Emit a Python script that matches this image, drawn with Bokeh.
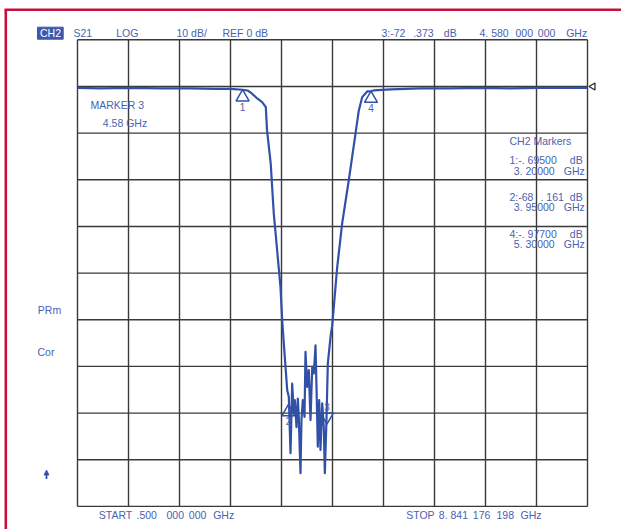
import math
from bokeh.plotting import figure
from bokeh.models import Label
from bokeh.embed import file_html
from bokeh.resources import INLINE

freq_start_ghz = 0.5
freq_stop_ghz = 8.841176198
top_db = 10.0          # one division above REF 0 dB
db_per_div = 10.0
n_xdiv = 10
n_ydiv = 10
ref_db = 0.0

freq_ghz = [0.50, 0.88, 1.37, 1.86, 2.35, 2.76, 3.00, 3.20,
            3.28, 3.35, 3.44, 3.52, 3.58, 3.60, 3.66, 3.71, 3.77, 3.82,
            3.848, 3.874, 3.93,
            3.956, 3.984, 4.011, 4.038, 4.054, 4.082, 4.103, 4.119, 4.147,
            4.163, 4.185, 4.213, 4.229, 4.257, 4.283, 4.311, 4.339, 4.365, 4.393,
            4.409, 4.430, 4.453, 4.474, 4.502, 4.528, 4.545, 4.572, 4.594, 4.638,
            4.666, 4.747, 4.829, 4.937, 5.047, 5.101, 5.156, 5.238, 5.30, 5.346,
            5.62, 6.11, 6.60, 7.09, 7.58, 8.07, 8.40, 8.841]
s21_db = [-0.3, -0.43, -0.3, -0.43, -0.43, -0.5, -0.5, -0.7,
          -0.86, -1.5, -2.57, -3.36, -4.43, -9.42, -16.5, -27.2, -35.8, -43.0,
          -50.1, -55.0, -65.1,
          -66.5, -78.6, -63.7, -70.1, -67.2, -73.0, -66.9, -70.8, -82.9,
          -71.5, -67.2, -70.8, -56.9, -64.4, -60.8, -71.5, -60.1, -61.5, -55.5,
          -64.4, -77.2, -67.2, -77.9, -67.9, -73.0, -82.9, -71.5, -59.4, -53.7,
          -51.2, -38.8, -29.3, -20.1, -10.1, -5.14, -2.29, -1.07, -0.98, -0.86,
          -0.64, -0.43, -0.43, -0.3, -0.43, -0.3, -0.3, -0.3]

marker_ids = ["1", "2", "3", "4"]
marker_freq_ghz = [3.20, 3.95, 4.58, 5.30]
marker_db = [-0.695, -68.161, -72.373, -0.977]
active_marker = "3"

# ---------------- layout ----------------
W, H = 621, 529
X0, Y0 = 0, 0                    # page position of the canvas
GL, GR, GT, GB = 77.0, 587.0, 39.3, 505.9   # grid box in page pixels

bottom_db = top_db - n_ydiv * db_per_div
sx = (freq_stop_ghz - freq_start_ghz) / (GR - GL)
sy = (top_db - bottom_db) / (GB - GT)

x_start = freq_start_ghz - (GL - X0) * sx
x_end = freq_start_ghz + (X0 + W - GL) * sx
y_end = top_db + (GT - Y0) * sy
y_start = top_db - (Y0 + H - GT) * sy


def dx(X):
    return freq_start_ghz + (X - GL) * sx


def dy(Y):
    return top_db - (Y - GT) * sy


BLUE_TXT = "#4a62b0"
TRACE = "#3151a8"
RED = "#c8103c"
GRID = "#3a3a3a"
FONT = "Liberation Sans"

p = figure(width=W, height=H, x_range=(x_start, x_end), y_range=(y_start, y_end),
           output_backend="svg", toolbar_location=None, min_border=0,
           x_axis_location=None, y_axis_location=None)
p.grid.visible = False
p.outline_line_color = None
p.background_fill_color = "white"
p.border_fill_color = "white"

# red frame (top and left)
p.line([dx(4), dx(X0 + W)], [dy(9.2), dy(9.2)], line_color=RED, line_width=2.6)
p.line([dx(5.3), dx(5.3)], [dy(9.2), dy(Y0 + H)], line_color=RED, line_width=2.6)

# graticule
xdiv = [freq_start_ghz + i * (freq_stop_ghz - freq_start_ghz) / n_xdiv for i in range(n_xdiv + 1)]
ydiv = [top_db - i * db_per_div for i in range(n_ydiv + 1)]
p.segment(x0=xdiv, y0=[bottom_db] * len(xdiv), x1=xdiv, y1=[top_db] * len(xdiv),
          line_color=GRID, line_width=1.4)
p.segment(x0=[freq_start_ghz] * len(ydiv), y0=ydiv, x1=[freq_stop_ghz] * len(ydiv), y1=ydiv,
          line_color=GRID, line_width=1.4)

# trace
p.line(freq_ghz, s21_db, line_color=TRACE, line_width=2.2, line_join="round")

# markers
tri_px = 13
apex_off = tri_px / 2 * math.sqrt(3) * 2 / 3


def lab(X, Y, text, size="10.5px", color=BLUE_TXT, align="left", data=False):
    x = X if data else dx(X)
    y = Y if data else dy(Y)
    p.add_layout(Label(x=x, y=y, text=text, text_font=FONT, text_font_size=size,
                       text_color=color, text_align=align, text_baseline="middle"))


for mid, f, d in zip(marker_ids, marker_freq_ghz, marker_db):
    if mid == active_marker:
        p.scatter([f], [d + apex_off * sy], marker="inverted_triangle", size=tri_px,
                  fill_color=None, line_color=TRACE, line_width=1.5)
        lab(f, d + 17 * sy, mid, size="10px", align="center", data=True)
    else:
        p.scatter([f], [d - apex_off * sy], marker="triangle", size=tri_px,
                  fill_color=None, line_color=TRACE, line_width=1.5)
        lab(f, d - 17 * sy, mid, size="10px", align="center", data=True)

# reference level indicator at right edge
p.patch([freq_stop_ghz + 1.5 * sx, freq_stop_ghz + 7.5 * sx, freq_stop_ghz + 7.5 * sx],
        [ref_db, ref_db + 3.5 * sy, ref_db - 3.5 * sy],
        fill_color="white", line_color="#222222", line_width=1.2)

# CH2 box
p.quad(left=[dx(37)], right=[dx(62.7)], top=[dy(26.7)], bottom=[dy(38.7)],
       fill_color="#3d5aaa", line_color="#3d5aaa")
lab(39.5, 32.6, "CH2", color="white")

# header
lab(73, 32.3, "S21")
lab(115.7, 32.3, "LOG")
lab(176, 32.3, "10 dB/")
lab(222, 32.3, "REF 0 dB")
lab(381, 32.3, "3:-72")
lab(412.7, 32.3, ".373")
lab(443.3, 32.3, "dB")
lab(479, 32.3, "4. 580")
lab(515, 32.3, "000")
lab(537.3, 32.3, "000")
lab(565.7, 32.3, "GHz")

# left annotations
lab(90, 104, "MARKER 3")
lab(102.3, 122.7, "4.58 GHz")
lab(37.3, 309, "PRm")
lab(37, 351, "Cor")
p.patch([dx(43.5), dx(48.5), dx(46)], [dy(474.5), dy(474.5), dy(469.5)],
        fill_color=TRACE, line_color=TRACE, line_width=0.8)
p.line([dx(46), dx(46)], [dy(473), dy(478.5)], line_color=TRACE, line_width=1.8)

# marker table
lab(509, 140, "CH2 Markers")
lab(509, 159.3, "1:-. 69500")
lab(569.3, 159.3, "dB")
lab(513.3, 170, "3. 20000")
lab(563.3, 170, "GHz")
lab(509, 196, "2:-68")
lab(540, 196, ". 161")
lab(569.3, 196, "dB")
lab(513.3, 206, "3. 95000")
lab(563.3, 206, "GHz")
lab(509, 233.3, "4:-. 97700")
lab(569.3, 233.3, "dB")
lab(513.3, 243.3, "5. 30000")
lab(563.3, 243.3, "GHz")

# footer
lab(98.3, 514.3, "START")
lab(136, 514.3, ".500")
lab(166, 514.3, "000")
lab(188.3, 514.3, "000")
lab(212.7, 514.3, "GHz")
lab(405.7, 514.3, "STOP")
lab(438.3, 514.3, "8. 841")
lab(472.3, 514.3, "176")
lab(496, 514.3, "198")
lab(520, 514.3, "GHz")

open("out.html", "w").write(file_html(p, INLINE))
